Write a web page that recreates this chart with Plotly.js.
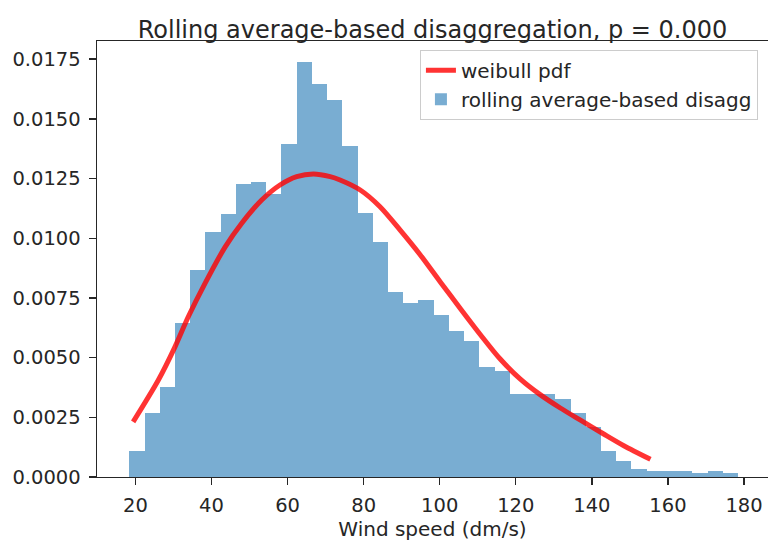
<!DOCTYPE html>
<html>
<head>
<meta charset="utf-8">
<script src="https://cdn.plot.ly/plotly-3.0.1.min.js"></script>
<style>html,body{margin:0;padding:0;background:#fff;}#chart{width:768px;height:544px;}</style>
</head>
<body>
<div id="chart"></div>
<script>
// Histogram (density) — 40 bins of width 4 starting at 18.4 dm/s
const binStart = 18.4;
const binWidth = 4;
const density = [
  0.00109, 0.00267, 0.00379, 0.00647, 0.00865, 0.01025, 0.01100, 0.01227, 0.01234, 0.01187,
  0.01395, 0.01739, 0.01648, 0.01581, 0.01387, 0.01104, 0.00985, 0.00774, 0.00730, 0.00740,
  0.00680, 0.00613, 0.00570, 0.00461, 0.00445, 0.00348, 0.00348, 0.00348, 0.00327, 0.00270,
  0.00210, 0.00111, 0.00068, 0.00034, 0.00027, 0.00027, 0.00027, 0.00017, 0.00027, 0.00015
];

// Weibull pdf curve points
const pdfX = [19.4, 26.0, 30.4, 33.9, 38.3, 43.6, 47.9, 53.2, 58.0, 62.4, 66.8, 71.2, 73.8, 79.1, 84.3, 89.6, 94.9, 100.1, 105.4, 110.7, 115.9, 121.2, 126.4, 131.7, 137.0, 143.1, 148.4, 155.4];
const pdfY = [0.00231, 0.00405, 0.00545, 0.00671, 0.00811, 0.00964, 0.01062, 0.01160, 0.01223, 0.01258, 0.01269, 0.01258, 0.01244, 0.01202, 0.01132, 0.01034, 0.00930, 0.00818, 0.00706, 0.00596, 0.00494, 0.00410, 0.00345, 0.00289, 0.00238, 0.00180, 0.00131, 0.00074];

const xTicks = [20, 40, 60, 80, 100, 120, 140, 160, 180];
const yTicks = [0, 0.0025, 0.005, 0.0075, 0.01, 0.0125, 0.015, 0.0175];

const titleText = 'Rolling average-based disaggregation, p = 0.000';
const xLabel = 'Wind speed (dm/s)';
const lineName = 'weibull pdf';
const barName = 'rolling average-based disagg';

const binCenters = density.map((_, i) => binStart + binWidth * (i + 0.5));

const font = {family: '"DejaVu Sans", sans-serif', size: 20, color: '#262626'};
const tickFont = {family: font.family, size: 19.5, color: '#262626'};

const traces = [
  {
    type: 'scatter', mode: 'lines', name: lineName,
    x: pdfX, y: pdfY,
    line: {color: 'rgba(255,0,0,0.8)', width: 5, shape: 'spline', smoothing: 0.8}
  },
  {
    type: 'bar', name: barName,
    x: binCenters, y: density,
    width: density.map(() => binWidth),
    marker: {color: 'rgba(31,119,180,0.6)', line: {width: 0}}
  }
];

const layout = {
  width: 768, height: 544,
  margin: {l: 97, r: 0, t: 41, b: 67},
  paper_bgcolor: '#fff', plot_bgcolor: '#fff',
  font: font,
  bargap: 0,
  showlegend: true,
  title: {
    text: titleText,
    font: {family: font.family, size: 24, color: '#262626'},
    x: 0.5, xref: 'paper', xanchor: 'center',
    y: 1, yref: 'paper', yanchor: 'bottom',
    pad: {b: 3}
  },
  xaxis: {
    range: [9.9, 186.3],
    tickvals: xTicks,
    ticktext: xTicks.map(String),
    ticks: 'outside', ticklen: 7, tickwidth: 1.4, tickcolor: '#262626',
    showline: true, linecolor: '#262626', linewidth: 1.4, mirror: true,
    showgrid: false, zeroline: false,
    tickfont: tickFont,
    ticklabelstandoff: 3,
    title: {text: xLabel, font: font, standoff: 4}
  },
  yaxis: {
    range: [0, 0.01826],
    tickvals: yTicks,
    ticktext: yTicks.map(v => v.toFixed(4)),
    ticks: 'outside', ticklen: 7, tickwidth: 1.4, tickcolor: '#262626',
    showline: true, linecolor: '#262626', linewidth: 1.4, mirror: true,
    showgrid: false, zeroline: false,
    tickfont: tickFont,
    ticklabelstandoff: 4
  },
  legend: {
    x: 0.985, xanchor: 'right', xref: 'paper',
    y: 0.98, yanchor: 'top', yref: 'paper',
    bgcolor: 'rgba(255,255,255,0.8)', bordercolor: '#cccccc', borderwidth: 1,
    font: font
  }
};

Plotly.newPlot('chart', traces, layout, {displayModeBar: false, staticPlot: true});
</script>
</body>
</html>
